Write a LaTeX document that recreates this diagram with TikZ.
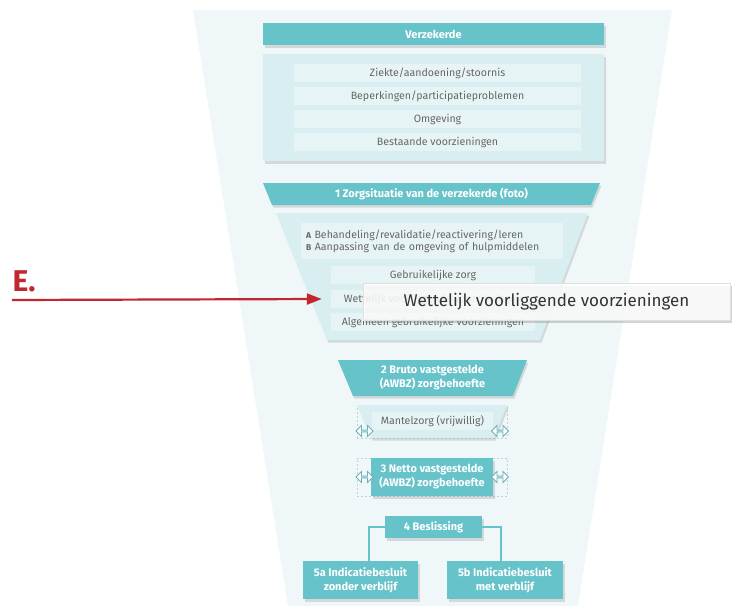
\documentclass[tikz,border=0pt]{standalone}
\usepackage{fontspec}
\setmainfont{Fira Sans}
\usetikzlibrary{positioning,shadows,shapes.arrows,arrows.meta}

\definecolor{teal1}{HTML}{66C3CA}
\definecolor{funnel}{HTML}{EFF7F9}
\definecolor{lightbox}{HTML}{D9EEF1}
\definecolor{rowfill}{HTML}{E7F4F6}
\definecolor{txtgray}{HTML}{666666}
\definecolor{dashgray}{HTML}{AFD9DC}
\definecolor{red1}{HTML}{C1272D}

\begin{document}
\begin{tikzpicture}[x=1pt, y=-1pt,
	soft/.style={drop shadow={opacity=0.25, shadow xshift=1.5pt, shadow yshift=-2.5pt}},
	header/.style={fill=teal1, text=white, inner sep=0pt, align=center,
		font=\bfseries\fontsize{11}{14}\selectfont},
	row/.style={fill=rowfill, text=txtgray, inner sep=0pt, minimum height=18pt,
		font=\fontsize{10.6}{12}\selectfont},
	dashbox/.style={draw=dashgray, dash pattern=on 2pt off 2pt, line width=0.6pt},
	twoway/.style={double arrow, draw=teal1!75!gray, fill=white, line width=0.9pt,
		minimum height=17pt, minimum width=11pt, inner sep=0pt,
		double arrow head extend=2.5pt}]
	\useasboundingbox (0,0) rectangle (732,606);

	% Funnel background
	\fill[funnel] (193,10) -- (672,10) -- (578,606) -- (288,606) -- cycle;

	% Verzekerde
	\node [header, soft, minimum width=341pt, minimum height=22pt] (verz) at (433.5,34) {Verzekerde};
	\node [fill=lightbox, soft, minimum width=341pt, minimum height=107pt, inner sep=0pt] (verzbox) at (433.5,107.5) {};
	\node [row, minimum width=287pt] (r1) at (437.5,73)  {Ziekte/aandoening/stoornis};
	\node [row, minimum width=287pt] (r2) at (437.5,96)  {Beperkingen/participatieproblemen};
	\node [row, minimum width=287pt] (r3) at (437.5,119) {Omgeving};
	\node [row, minimum width=287pt] (r4) at (437.5,142) {Bestaande voorzieningen};

	% 1 Zorgsituatie
	\fill [teal1, soft] (263,183) -- (600,183) -- (591,205) -- (272,205) -- cycle;
	\node [header] (zorg) at (431.5,194) {1 Zorgsituatie van de verzekerde (foto)};
	\fill [lightbox, soft] (276,213) -- (588,213) -- (540,340) -- (327,340) -- cycle;
	\node [row, minimum width=262pt, minimum height=36pt, text width=252pt, align=left] (ab) at (432,241)
		{{\bfseries\fontsize{8.5}{10}\selectfont A} Behandeling/revalidatie/reactivering/leren\\
		 {\bfseries\fontsize{8.5}{10}\selectfont B} Aanpassing van de omgeving of hulpmiddelen};
	\node [row, minimum width=204pt] (gebr) at (433,275) {Gebruikelijke zorg};
	\node [row, minimum width=204pt] (wett) at (433,299) {Wettelijk voorliggende voorzieningen};
	\node [row, minimum width=204pt] (alg)  at (433,322) {Algemeen gebruikelijke voorzieningen};

	% Callout
	\node [fill=white, fill opacity=0.85, text opacity=1, draw=black!12, line width=0.5pt,
		drop shadow={opacity=0.35, shadow xshift=2pt, shadow yshift=-3pt},
		minimum width=367pt, minimum height=37pt, inner sep=0pt, text=black!80,
		font=\fontsize{17}{20}\selectfont] (call) at (546.5,301.5) {Wettelijk voorliggende voorzieningen};

	% E. with arrow
	\node [text=red1, font=\bfseries\fontsize{30}{32}\selectfont, inner sep=0pt] (E) at (24,281) {E.};
	\coordinate (estart) at (12,300);
	\draw [red1, line width=2.2pt, -{Triangle[length=15pt, width=11pt]}] (estart) -- ([xshift=-9pt]wett.west);

	% 2 Bruto
	\fill [teal1, soft] (338,360) -- (527,360) -- (513,396) -- (353,396) -- cycle;
	\node [header] (bruto) at (432.5,378) {2 Bruto vastgestelde\\(AWBZ) zorgbehoefte};

	% Mantelzorg
	\node [dashbox, minimum width=150pt, minimum height=33pt, inner sep=0pt] (mantbox) at (432,421.5) {};
	\fill [lightbox, soft] (357,405) -- (507,405) -- (494,438) -- (371,438) -- cycle;
	\node [row, minimum width=121pt] (mant) at (432.5,421) {Mantelzorg (vrijwillig)};
	\node [twoway] (ml) at (364.5,431) {};
	\node [twoway] (mr) at (500,431) {};

	% 3 Netto
	\node [dashbox, minimum width=150pt, minimum height=38pt, inner sep=0pt] (nettobox) at (432,477) {};
	\node [header, soft, minimum width=122pt, minimum height=38pt] (netto) at (432,477) {3 Netto vastgestelde\\(AWBZ) zorgbehoefte};
	\node [twoway] (nl) at (364.5,477) {};
	\node [twoway] (nr) at (500,477) {};

	% 4 Beslissing and 5a/5b
	\node [header, soft, minimum width=97pt, minimum height=22pt] (besl) at (433.5,527) {4 Beslissing};
	\node [header, soft, minimum width=115pt, minimum height=38pt] (b5a) at (360.5,580) {5a Indicatiebesluit\\zonder verblijf};
	\node [header, soft, minimum width=116pt, minimum height=38pt] (b5b) at (505,580) {5b Indicatiebesluit\\met verblijf};

	\draw [teal1, line width=1.3pt] (besl.west) -| ([xshift=8.5pt]b5a.north);
	\draw [teal1, line width=1.3pt] (besl.east) -| ([xshift=-4pt]b5b.north);
\end{tikzpicture}
\end{document}
